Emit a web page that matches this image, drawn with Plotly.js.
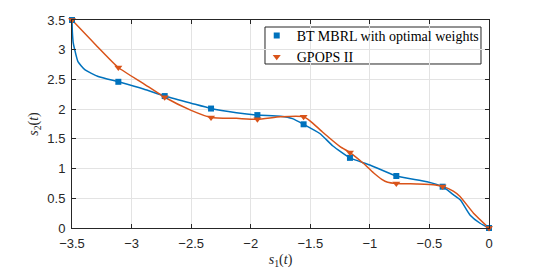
<!DOCTYPE html>
<html>
<head>
<meta charset="utf-8">
<script src="https://cdn.plot.ly/plotly-3.0.1.min.js"></script>
<style>html,body{margin:0;padding:0;background:#fff;}#chart{width:540px;height:270px;}</style>
</head>
<body>
<div id="chart"></div>
<script>
// Markers (sample points)
const markerX = [-3.5, -3.111, -2.722, -2.333, -1.944, -1.556, -1.167, -0.778, -0.389, 0];
const btMarkerY = [3.5, 2.46, 2.22, 2.01, 1.90, 1.745, 1.18, 0.875, 0.695, 0];
const gpMarkerY = [3.5, 2.70, 2.20, 1.86, 1.83, 1.87, 1.27, 0.75, 0.70, 0];

// Continuous curves
const btLineX = [-3.5, -3.497, -3.49, -3.477, -3.45, -3.39, -3.28, -3.111, -2.9, -2.722, -2.5, -2.333, -2.12, -1.944, -1.75, -1.65, -1.556, -1.42, -1.31, -1.167, -1.0, -0.778, -0.52, -0.389, -0.3, -0.24, -0.16, -0.075, 0];
const btLineY = [3.5, 3.3, 3.12, 3.0, 2.80, 2.66, 2.55, 2.46, 2.34, 2.22, 2.10, 2.01, 1.94, 1.90, 1.88, 1.84, 1.745, 1.59, 1.38, 1.18, 1.06, 0.875, 0.78, 0.695, 0.56, 0.47, 0.22, 0.08, 0];
const gpLineX = [-3.5, -3.3, -3.111, -2.9, -2.722, -2.5, -2.333, -2.12, -1.944, -1.75, -1.556, -1.5, -1.4, -1.25, -1.167, -1.055, -0.97, -0.9, -0.85, -0.778, -0.6, -0.45, -0.389, -0.3, -0.243, -0.13, 0];
const gpLineY = [3.5, 3.08, 2.70, 2.43, 2.20, 1.98, 1.86, 1.845, 1.83, 1.87, 1.87, 1.80, 1.62, 1.37, 1.27, 1.09, 0.93, 0.82, 0.77, 0.75, 0.74, 0.725, 0.70, 0.62, 0.53, 0.25, 0];

const blue = '#0072BD', orange = '#D95319';
const serif = '"Liberation Serif", "Times New Roman", serif';
const sans = '"Liberation Sans", Arial, sans-serif';

const traces = [
  {x: btLineX, y: btLineY, mode: 'lines', line: {color: blue, width: 1.5, shape: 'spline', smoothing: 0.5}, showlegend: false, hoverinfo: 'skip'},
  {x: gpLineX, y: gpLineY, mode: 'lines', line: {color: orange, width: 1.5, shape: 'spline', smoothing: 0.5}, showlegend: false, hoverinfo: 'skip'},
  {x: markerX, y: btMarkerY, mode: 'markers', name: 'BT MBRL with optimal weights', marker: {symbol: 'square', size: 6, color: blue}, cliponaxis: false},
  {x: markerX, y: gpMarkerY, mode: 'markers', name: 'GPOPS II', marker: {symbol: 'triangle-down', size: 7, color: orange}, cliponaxis: false}
];

const axisCommon = {
  showline: true, linecolor: '#262626', linewidth: 1, mirror: 'ticks',
  ticks: 'inside', ticklen: 4, tickcolor: '#262626',
  showgrid: true, gridcolor: '#e3e3e3', gridwidth: 1, zeroline: false,
  tickfont: {family: sans, size: 13, color: '#262626'}
};

const layout = {
  width: 540, height: 270,
  margin: {l: 72, r: 51, t: 20, b: 42},
  paper_bgcolor: '#fff', plot_bgcolor: '#fff',
  xaxis: Object.assign({}, axisCommon, {
    range: [-3.5, 0], dtick: 0.5, tick0: -3.5, ticklabelstandoff: 3,
    title: {text: '<i>s</i><sub>1</sub>(<i>t</i>)', font: {family: serif, size: 14, color: '#262626'}, standoff: 4}
  }),
  yaxis: Object.assign({}, axisCommon, {
    range: [0, 3.5], dtick: 0.5, tick0: 0, ticklabelstandoff: 3,
    title: {text: '<i>s</i><sub>2</sub>(<i>t</i>)', font: {family: serif, size: 14, color: '#262626'}, standoff: 5}
  }),
  legend: {
    x: 0.443, y: 1.0, xanchor: 'left', yanchor: 'top',
    bgcolor: 'rgba(0,0,0,0)', borderwidth: 0,
    font: {family: serif, size: 14, color: '#000'},
    tracegroupgap: 0, itemwidth: 30
  },
  shapes: [{
    type: 'rect', xref: 'paper', yref: 'paper', layer: 'below',
    x0: 0.4628, x1: 0.9808, y0: 0.7885, y1: 0.9663,
    line: {color: '#262626', width: 1}, fillcolor: '#fff'
  }],
  showlegend: true
};

Plotly.newPlot('chart', traces, layout, {displayModeBar: false, staticPlot: true});
</script>
</body>
</html>
